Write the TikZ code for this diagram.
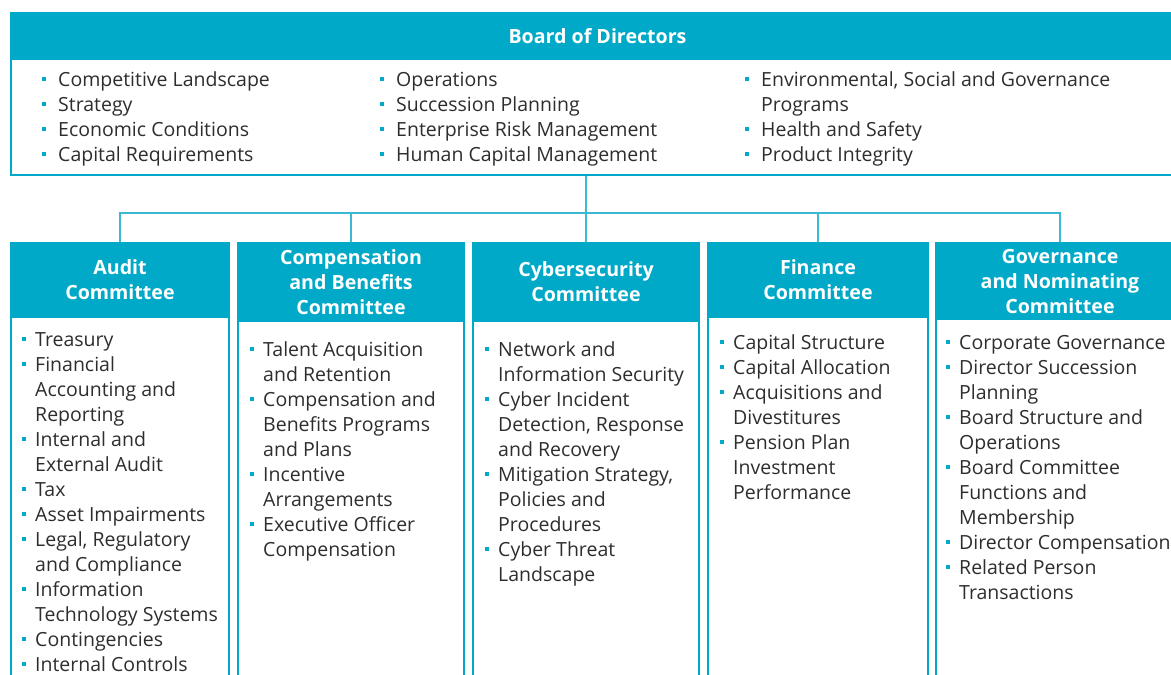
\documentclass[tikz,border=0pt]{standalone}
\usepackage{fontspec}
\setmainfont{Open Sans}
\usetikzlibrary{positioning}
\definecolor{boardteal}{RGB}{0,169,199}
\definecolor{linkteal}{RGB}{60,185,210}
\definecolor{textgrey}{RGB}{45,45,45}

\newlength{\itemgap}
\setlength{\itemgap}{13pt}
\newcommand{\blt}{\textcolor{boardteal}{\rule[0.28em]{4pt}{4pt}}}
\newcommand{\bi}{\strut\makebox[\itemgap][l]{\blt}}
\newcommand{\ci}{\strut\hspace*{\itemgap}}

\begin{document}
\begin{tikzpicture}[x=1pt, y=-1pt,
    headbox/.style={fill=boardteal, draw=boardteal, line width=2pt, inner sep=0pt,
      text=white, align=center, font=\fontsize{19.6}{25}\selectfont\bfseries},
    framebox/.style={draw=boardteal, line width=2pt, inner sep=0pt},
    itemlist/.style={inner sep=0pt, anchor=north west, align=left, text=textgrey,
      font=\fontsize{19.5}{25}\selectfont},
    boardlist/.style={itemlist, execute at begin node={\setlength{\itemgap}{16pt}}},
    link/.style={draw=linkteal, line width=1.5pt}]
  \clip (0,0) rectangle (1171,675);
  \useasboundingbox (0,0) rectangle (1171,675);

  % Board of Directors
  \node[framebox, minimum width=1173, minimum height=162, anchor=north west] (board) at (10,12) {};
  \node[headbox, minimum width=1173, minimum height=44, anchor=north west] (boardH) at (10,13.5) {Board of Directors};
  \node[boardlist] (boardA) at (42,69) {\bi Competitive Landscape\\ \bi Strategy\\ \bi Economic Conditions\\ \bi Capital Requirements};
  \node[boardlist] (boardB) at (380,69) {\bi Operations\\ \bi Succession Planning\\ \bi Enterprise Risk Management\\ \bi Human Capital Management};
  \node[boardlist] (boardC) at (745,69) {\bi Environmental, Social and Governance\\ \ci Programs\\ \bi Health and Safety\\ \bi Product Integrity};

  % Audit
  \node[framebox, minimum width=218, minimum height=480, anchor=north west] (aud) at (10,242) {};
  \node[headbox, minimum width=218, minimum height=74, anchor=north west] (audH) at (10,242) {Audit\\Committee};
  \node[itemlist] (audL) at (22,329) {\bi Treasury\\ \bi Financial\\ \ci Accounting and\\ \ci Reporting\\
    \bi Internal and\\ \ci External Audit\\ \bi Tax\\ \bi Asset Impairments\\ \bi Legal, Regulatory\\
    \ci and Compliance\\ \bi Information\\ \ci Technology Systems\\ \bi Contingencies\\ \bi Internal Controls};

  % Compensation and Benefits
  \node[framebox, minimum width=226, minimum height=480, anchor=north west] (comp) at (237,242) {};
  \node[headbox, minimum width=226, minimum height=78, anchor=north west] (compH) at (237,242) {Compensation\\and Benefits\\Committee};
  \node[itemlist] (compL) at (250,339) {\bi Talent Acquisition\\ \ci and Retention\\ \bi Compensation and\\
    \ci Benefits Programs\\ \ci and Plans\\ \bi Incentive\\ \ci Arrangements\\ \bi Executive Officer\\ \ci Compensation};

  % Cybersecurity
  \node[framebox, minimum width=226, minimum height=480, anchor=north west] (cyb) at (472,242) {};
  \node[headbox, minimum width=226, minimum height=78, anchor=north west] (cybH) at (472,242) {Cybersecurity\\Committee};
  \node[itemlist] (cybL) at (485,339) {\bi Network and\\ \ci Information Security\\ \bi Cyber Incident\\
    \ci Detection, Response\\ \ci and Recovery\\ \bi Mitigation Strategy,\\ \ci Policies and\\ \ci Procedures\\
    \bi Cyber Threat\\ \ci Landscape};

  % Finance
  \node[framebox, minimum width=220, minimum height=480, anchor=north west] (fin) at (707,242) {};
  \node[headbox, minimum width=220, minimum height=74, anchor=north west] (finH) at (707,242) {Finance\\Committee};
  \node[itemlist] (finL) at (720,332) {\bi Capital Structure\\ \bi Capital Allocation\\ \bi Acquisitions and\\
    \ci Divestitures\\ \bi Pension Plan\\ \ci Investment\\ \ci Performance};

  % Governance and Nominating
  \node[framebox, minimum width=248, minimum height=480, anchor=north west] (gov) at (935,242) {};
  \node[headbox, minimum width=248, minimum height=76, anchor=north west] (govH) at (935,242) {Governance\\and Nominating\\Committee};
  \node[itemlist] (govL) at (946,332) {\bi Corporate Governance\\ \bi Director Succession\\ \ci Planning\\
    \bi Board Structure and\\ \ci Operations\\ \bi Board Committee\\ \ci Functions and\\ \ci Membership\\
    \bi Director Compensation\\ \bi Related Person\\ \ci Transactions};

  % Connectors
  \coordinate (busY) at (0,213);
  \draw[link] (cybH.north) -- (cybH.north |- board.south);
  \draw[link] (audH.north) |- (govH.north |- busY) -- (govH.north);
  \draw[link] (compH.north) -- (compH.north |- busY);
  \draw[link] (finH.north) -- (finH.north |- busY);
\end{tikzpicture}
\end{document}
